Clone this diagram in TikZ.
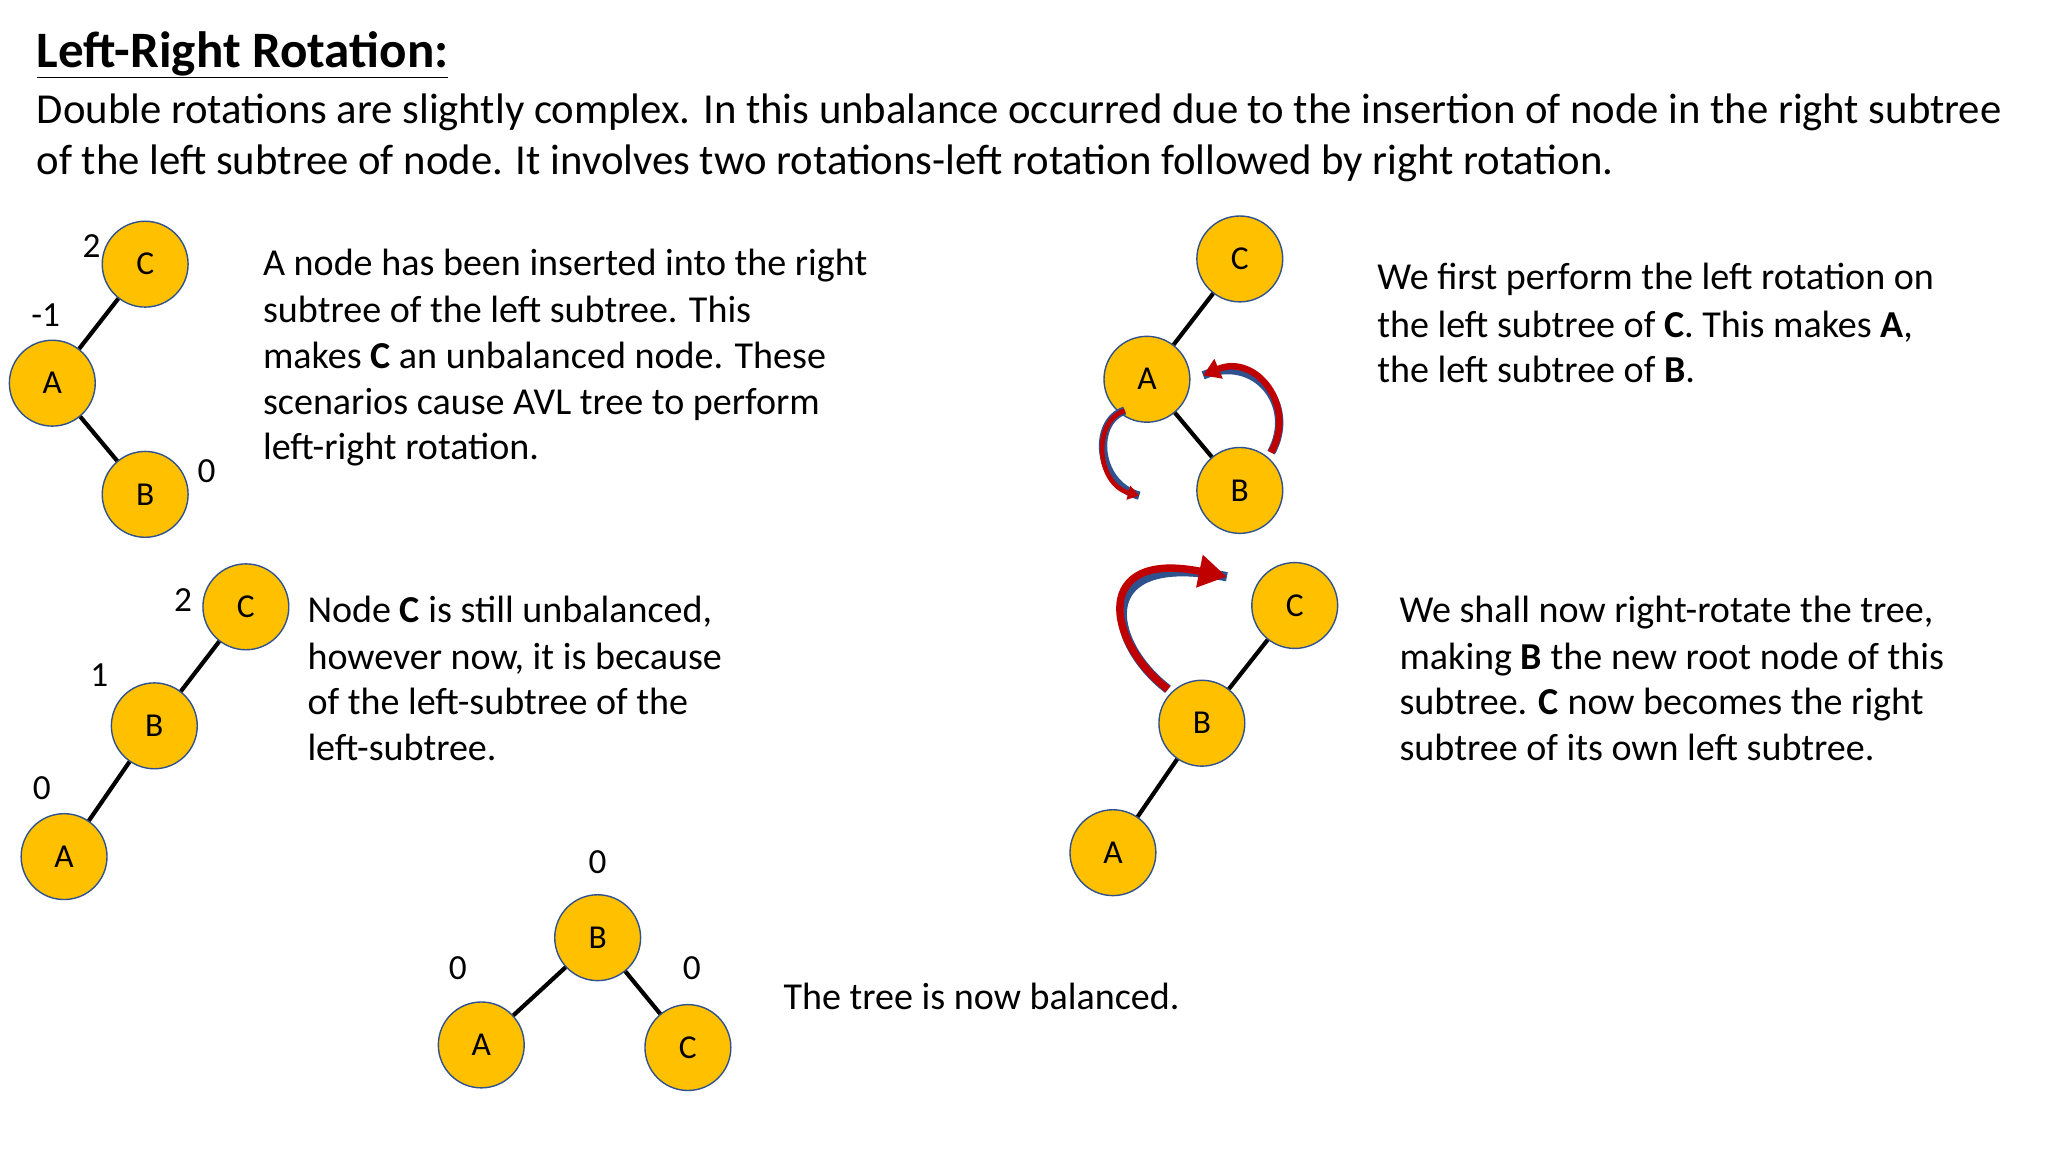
\documentclass[tikz,border=0pt]{standalone}
\usepackage{fontspec}
\setmainfont{Carlito}
\usetikzlibrary{arrows.meta}
\definecolor{nodefill}{HTML}{FFC000}
\definecolor{nodeline}{HTML}{2F528F}
\definecolor{arrred}{HTML}{C00000}
\begin{document}
\begin{tikzpicture}[x=0.0495cm,y=-0.0495cm,
  tn/.style={circle,fill=nodefill,draw=nodeline,line width=1.5pt,minimum size=3.25cm,inner sep=0pt,font=\fontsize{36}{40}\selectfont},
  ed/.style={line width=4.5pt,black},
  bf/.style={font=\fontsize{38}{44}\selectfont},
  tx/.style={anchor=mid west,inner sep=0pt,font=\fontsize{41}{48}\selectfont},
  hd/.style={anchor=mid west,inner sep=0pt,font=\fontsize{46}{54}\selectfont},
  rarr/.style={draw=arrred,line width=7pt,-{Triangle[length=18pt,width=22pt]},preaction={draw=nodeline,line width=9pt,-}}]
\useasboundingbox[fill=white] (0,0) rectangle (1566,881);
\node[hd,font=\fontsize{55}{60}\selectfont\bfseries] (title) at (28,50) {\underline{Left-Right Rotation:}};
\node[hd] (p1) at (28,93) {Double rotations are slightly complex. In this unbalance occurred due to the insertion of node in the right subtree};
\node[hd] (p2) at (28,132) {of the left subtree of node. It involves two rotations-left rotation followed by right rotation.};
% tree 1
\node[tn] (c1) at (111,202) {C};
\node[tn] (a1) at (40,293) {A};
\node[tn] (b1) at (111,378) {B};
\draw[ed] (c1) -- (a1); \draw[ed] (a1) -- (b1);
\node[bf] (l11) at (70,188) {2};
\node[bf] (l12) at (35,241) {-1};
\node[bf] (l13) at (158,360) {0};
\node[tx] (t11) at (201,209) {A node has been inserted into the right};
\node[tx] (t12) at (201,245) {subtree of the left subtree. This};
\node[tx] (t13) at (201,280) {makes \textbf{C} an unbalanced node. These};
\node[tx] (t14) at (201,315) {scenarios cause AVL tree to perform};
\node[tx] (t15) at (201,350) {left-right rotation.};
% tree 2
\node[tn] (c2) at (948,198) {C};
\node[tn] (a2) at (877,290) {A};
\node[tn] (b2) at (948,375) {B};
\draw[ed] (c2) -- (a2); \draw[ed] (a2) -- (b2);
\coordinate (r1s) at (860,314);
\coordinate (r1e) at (871,379);
\draw[rarr,line width=5pt,-{Triangle[length=12pt,width=15pt]},preaction={draw=nodeline,line width=7pt,-}] (r1s) .. controls (835,322) and (838,370) .. (r1e);
\coordinate (r2s) at (972,346);
\coordinate (r2e) at (920,287);
\draw[rarr] (r2s) .. controls (992,310) and (960,270) .. (r2e);
\node[tx] (t21) at (1053,220) {We first perform the left rotation on};
\node[tx] (t22) at (1053,256) {the left subtree of \textbf{C}. This makes \textbf{A},};
\node[tx] (t23) at (1053,291) {the left subtree of \textbf{B}.};
% tree 3
\node[tn] (c3) at (188,464) {C};
\node[tn] (b3) at (118,555) {B};
\node[tn] (a3) at (49,655) {A};
\draw[ed] (c3) -- (b3); \draw[ed] (b3) -- (a3);
\node[bf] (l31) at (140,459) {2};
\node[bf] (l32) at (76,516) {1};
\node[bf] (l33) at (32,603) {0};
\node[tx] (t31) at (235,474) {Node \textbf{C} is still unbalanced,};
\node[tx] (t32) at (235,510) {however now, it is because};
\node[tx] (t33) at (235,545) {of the left-subtree of the};
\node[tx] (t34) at (235,580) {left-subtree.};
% tree 4
\node[tn] (c4) at (990,463) {C};
\node[tn] (b4) at (919,553) {B};
\node[tn] (a4) at (851,652) {A};
\draw[ed] (c4) -- (b4); \draw[ed] (b4) -- (a4);
\coordinate (r3s) at (893,527);
\coordinate (r3e) at (938,441);
\draw[rarr,line width=8pt,-{Triangle[length=30pt,width=34pt]},preaction={draw=nodeline,line width=10pt,-}] (r3s) .. controls (845,490) and (835,420) .. (r3e);
\node[tx] (t41) at (1070,474) {We shall now right-rotate the tree,};
\node[tx] (t42) at (1070,510) {making \textbf{B} the new root node of this};
\node[tx] (t43) at (1070,545) {subtree. \textbf{C} now becomes the right};
\node[tx] (t44) at (1070,580) {subtree of its own left subtree.};
% tree 5
\node[tn] (b5) at (457,717) {B};
\node[tn] (a5) at (368,799) {A};
\node[tn] (c5) at (526,801) {C};
\draw[ed] (b5) -- (a5); \draw[ed] (b5) -- (c5);
\node[bf] (l51) at (457,659) {0};
\node[bf] (l52) at (350,740) {0};
\node[bf] (l53) at (529,740) {0};
\node[tx] (t51) at (599,770) {The tree is now balanced.};
\end{tikzpicture}
\end{document}
